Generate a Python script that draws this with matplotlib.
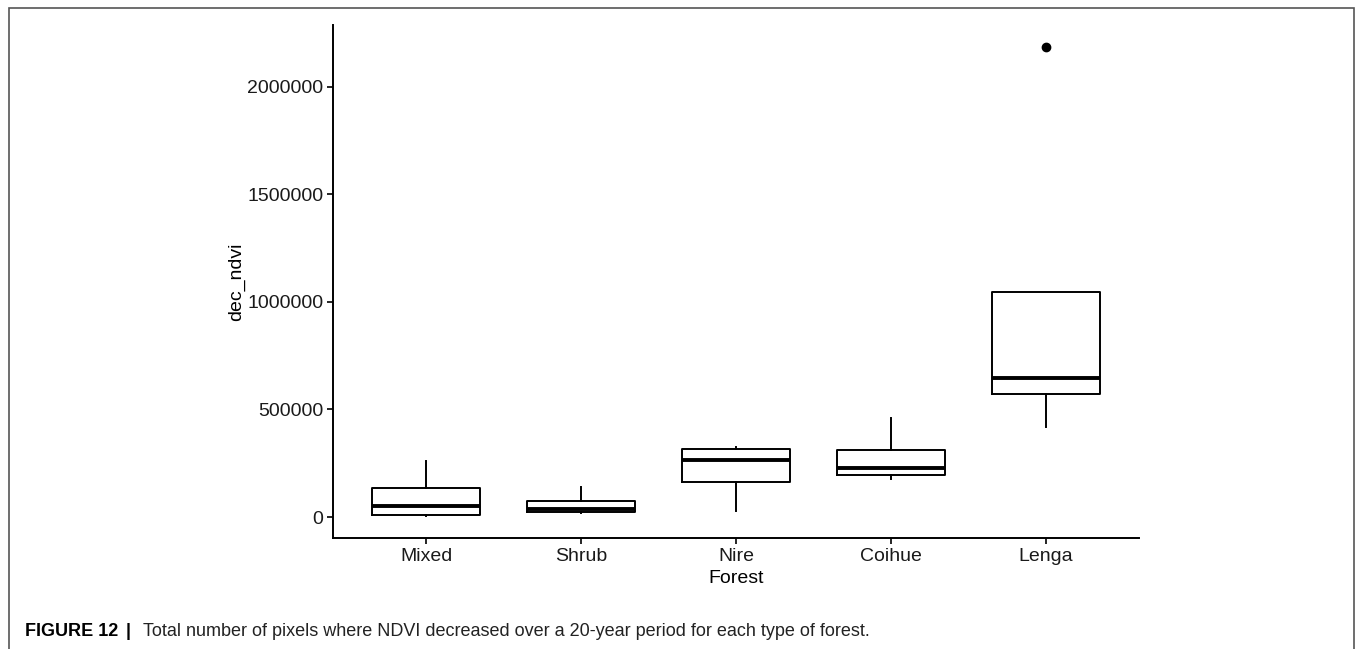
import matplotlib
matplotlib.use("Agg")
from matplotlib import pyplot as plt
from matplotlib.patches import Rectangle

plt.rcParams['font.family'] = ['Liberation Sans', 'DejaVu Sans']

# values
forests = ["Mixed", "Shrub", "Nire", "Coihue", "Lenga"]
q1 = [9000, 22000, 163000, 196000, 572000]
med = [51000, 36000, 265000, 229000, 648000]
q3 = [136000, 74000, 318000, 311000, 1048000]
whislo = [7000, 17000, 28000, 179000, 420000]
whishi = [260000, 141000, 325000, 462000, 1048000]
fliers = [[], [], [], [], [2186000]]

yticks = [0, 500000, 1000000, 1500000, 2000000]

stats = []
for i, name in enumerate(forests):
    stats.append(dict(label=name, q1=q1[i], med=med[i], q3=q3[i],
                      whislo=whislo[i], whishi=whishi[i], fliers=fliers[i]))

fig = plt.figure(figsize=(13.57, 6.49), dpi=100)
ax = fig.add_axes([0.2454, 0.171, 0.594, 0.7905])

ax.bxp(stats, positions=range(1, 6), widths=0.7, showcaps=False,
       boxprops=dict(color='black', linewidth=1.4),
       whiskerprops=dict(color='black', linewidth=1.4),
       medianprops=dict(color='black', linewidth=2.8),
       flierprops=dict(marker='o', markerfacecolor='black', markeredgecolor='black', markersize=6))

ax.set_xlim(0.4, 5.6)
ax.set_ylim(-97700, 2288000)
ax.set_yticks(yticks)
ax.set_yticklabels([str(v) for v in yticks])
ax.set_xticks(range(1, 6))
ax.set_xticklabels(forests)

ax.spines['top'].set_visible(False)
ax.spines['right'].set_visible(False)
ax.spines['left'].set_linewidth(1.4)
ax.spines['bottom'].set_linewidth(1.4)
ax.tick_params(labelsize=14, length=4, width=1.2, pad=3, colors='black')
for lab in ax.get_xticklabels() + ax.get_yticklabels():
    lab.set_color('#1a1a1a')

ax.set_xlabel('Forest', fontsize=14, labelpad=4)
ax.set_ylabel('dec_ndvi', fontsize=14, labelpad=1.8)

# outer frame of the figure panel
fig.add_artist(Rectangle((9 / 1357, -0.1), 1345 / 1357, 1.1 - 8 / 649,
                         transform=fig.transFigure, fill=False,
                         edgecolor='#555555', linewidth=1.2))

# caption
cy = 1 - 631 / 649
fig.text(25 / 1357, cy, 'FIGURE 12', fontsize=13, fontweight='bold', va='center', ha='left')
fig.text(126 / 1357, cy, '|', fontsize=13, fontweight='bold', va='center', ha='left')
fig.text(143 / 1357, cy,
         'Total number of pixels where NDVI decreased over a 20-year period for each type of forest.',
         fontsize=13, va='center', ha='left', color='#222222')

fig.savefig('out.png', dpi=100)
